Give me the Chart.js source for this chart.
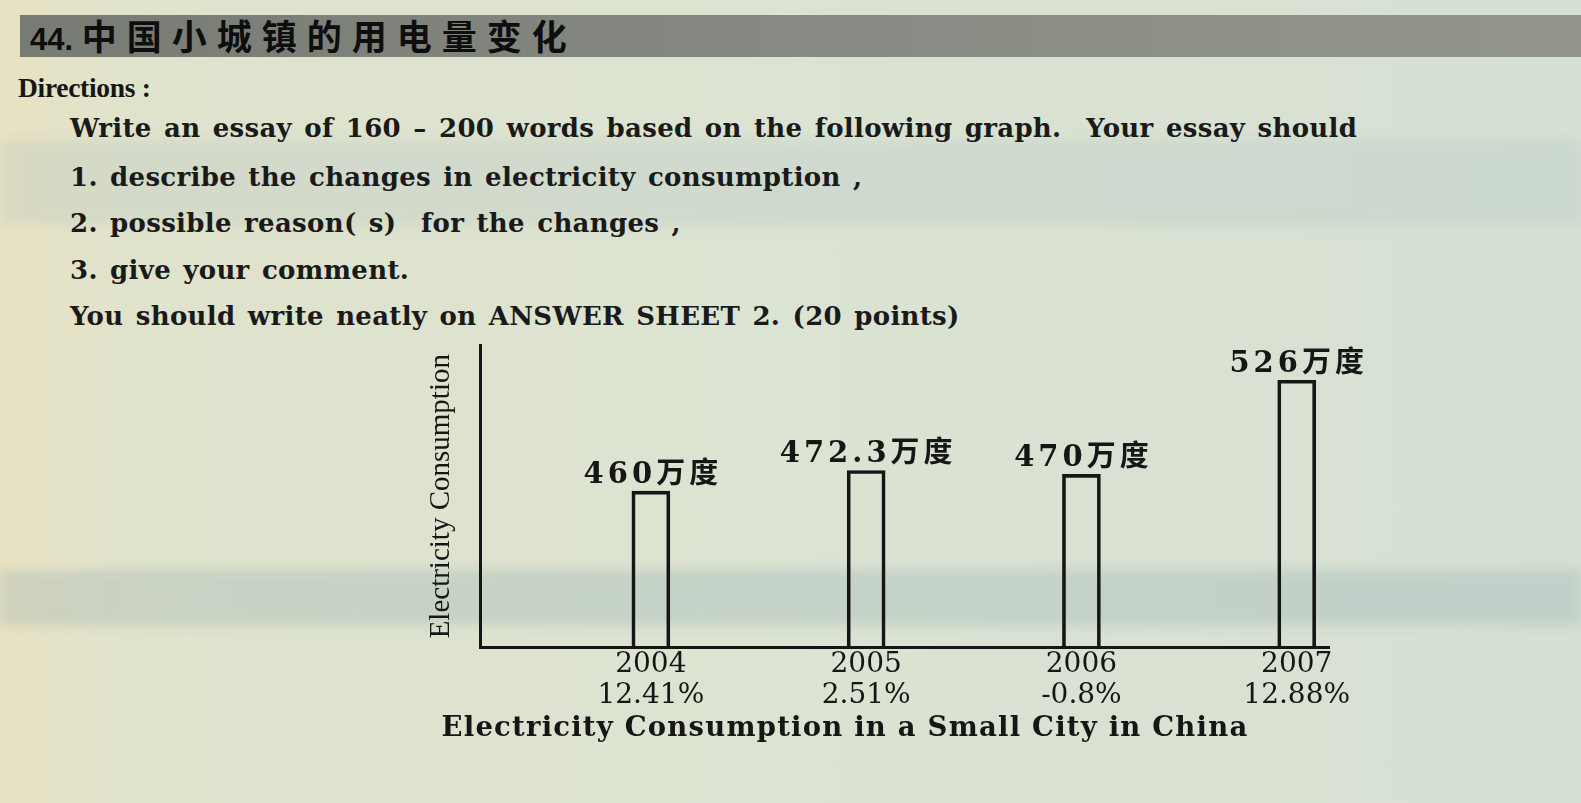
<!DOCTYPE html>
<html>
<head>
<meta charset="utf-8">
<script src="https://cdn.jsdelivr.net/npm/chart.js@4.4.1/dist/chart.umd.min.js"></script>
<style>
  html, body { margin:0; padding:0; width:1581px; height:803px; overflow:hidden; }
  body {
    position:relative;
    background: linear-gradient(90deg, #e8e2c2 0%, #e0e3cc 8%, #dbe3d2 50%, #d6e0d3 100%);
    font-family: "DejaVu Serif", "Liberation Serif", serif;
    color:#161616;
  }
  .band { position:absolute; left:0; width:1581px; pointer-events:none; }
  #hdr { position:absolute; left:20px; top:15px; width:1561px; height:42px;
         background: linear-gradient(90deg, #777b74 0%, #868a82 50%, #93968c 100%); }
  #hdrText { position:absolute; left:30px; top:14px; font-family:"Noto Sans CJK SC", sans-serif;
             font-weight:bold; font-size:35px; line-height:42px; color:#0e0e0e; letter-spacing:10px; }
  #hdrText .n { letter-spacing:0; font-family:"Liberation Sans", sans-serif; font-size:31px; }
  .t { position:absolute; white-space:nowrap; }
  #dir { left:18px; top:72px; font-family:"Liberation Serif", serif; font-weight:bold; font-size:27.5px; letter-spacing:-0.3px; }
  .line { left:70px; font-size:26px; font-weight:bold; letter-spacing:0.3px; word-spacing:3px; color:#1a1a1a; }
  #caption { left:845px; top:710px; transform:translateX(-50%); font-weight:bold; font-size:27.5px; letter-spacing:1.2px; }
  canvas { position:absolute; left:0; top:0; }
</style>
</head>
<body>
<div class="band" style="top:140px;height:85px;background:rgba(150,175,185,0.16);filter:blur(6px);"></div>
<div class="band" style="top:570px;height:55px;background:rgba(120,150,165,0.22);filter:blur(6px);"></div>
<div id="hdr"></div>
<div id="hdrText"><span class="n">44. </span>中国小城镇的用电量变化</div>
<div class="t" id="dir">Directions :</div>
<div class="t line" style="top:113px;">Write an essay of 160 – 200 words based on the following graph.&nbsp; Your essay should</div>
<div class="t line" style="top:162px;">1. describe the changes in electricity consumption ,</div>
<div class="t line" style="top:208px;">2. possible reason( s)&nbsp; for the changes ,</div>
<div class="t line" style="top:255px;">3. give your comment.</div>
<div class="t line" style="top:301px;">You should write neatly on ANSWER SHEET 2. (20 points)</div>
<canvas id="c" width="1581" height="803"></canvas>
<div class="t" id="caption">Electricity Consumption in a Small City in China</div>
<script>
// ---- data ----
const years = [2004, 2005, 2006, 2007];
const consumption = [460, 472.3, 470, 526];          // 万度
const valueLabels = ['460万度', '472.3万度', '470万度', '526万度'];
const growthLabels = ['12.41%', '2.51%', '-0.8%', '12.88%'];
const yAxisTitle = 'Electricity Consumption';

const ink = '#161616';

const barLabelPlugin = {
  id: 'barLabels',
  afterDatasetsDraw(chart) {
    const ctx = chart.ctx;
    const meta = chart.getDatasetMeta(0);
    ctx.save();
    ctx.font = "bold 29px 'DejaVu Serif', 'Noto Sans CJK SC', serif";
    ctx.fillStyle = ink;
    ctx.textAlign = 'center';
    ctx.textBaseline = 'alphabetic';
    try { ctx.letterSpacing = '4px'; } catch (e) {}
    meta.data.forEach((bar, i) => {
      ctx.fillText(valueLabels[i], bar.x + 2, bar.y - 8);
    });
    ctx.restore();
  }
};

new Chart(document.getElementById('c'), {
  type: 'bar',
  data: {
    datasets: [{
      data: years.map((y, i) => ({ x: y, y: consumption[i] })),
      backgroundColor: 'rgba(0,0,0,0)',
      borderColor: ink,
      borderWidth: 3,
      barThickness: 38,
      borderSkipped: 'bottom'
    }]
  },
  options: {
    responsive: false,
    animation: false,
    layout: { padding: { left: 420, top: 345, right: 252, bottom: 90 } },
    plugins: { legend: { display: false }, tooltip: { enabled: false }, title: { display: false } },
    scales: {
      x: {
        type: 'linear',
        offset: false,
        min: 2003.21,
        max: 2007.15,
        grid: { display: false, drawTicks: false, offset: false },
        border: { display: true, color: ink, width: 3 },
        afterBuildTicks: (scale) => { scale.ticks = years.map(v => ({ value: v })); },
        ticks: {
          autoSkip: false,
          maxRotation: 0,
          padding: 2,
          color: ink,
          font: { family: "'DejaVu Serif', serif", size: 28, lineHeight: 1.1 },
          callback: (v) => {
            const i = years.indexOf(v);
            return i >= 0 ? [String(years[i]), growthLabels[i]] : '';
          }
        }
      },
      y: {
        min: 367,
        max: 547,
        grid: { display: false, drawTicks: false },
        border: { display: true, color: ink, width: 3 },
        ticks: { display: false },
        title: {
          display: true,
          text: yAxisTitle,
          color: ink,
          font: { family: "'Liberation Serif', serif", size: 29 },
          padding: { top: 4, bottom: 22 }
        }
      }
    }
  },
  plugins: [barLabelPlugin]
});
</script>
</body>
</html>
